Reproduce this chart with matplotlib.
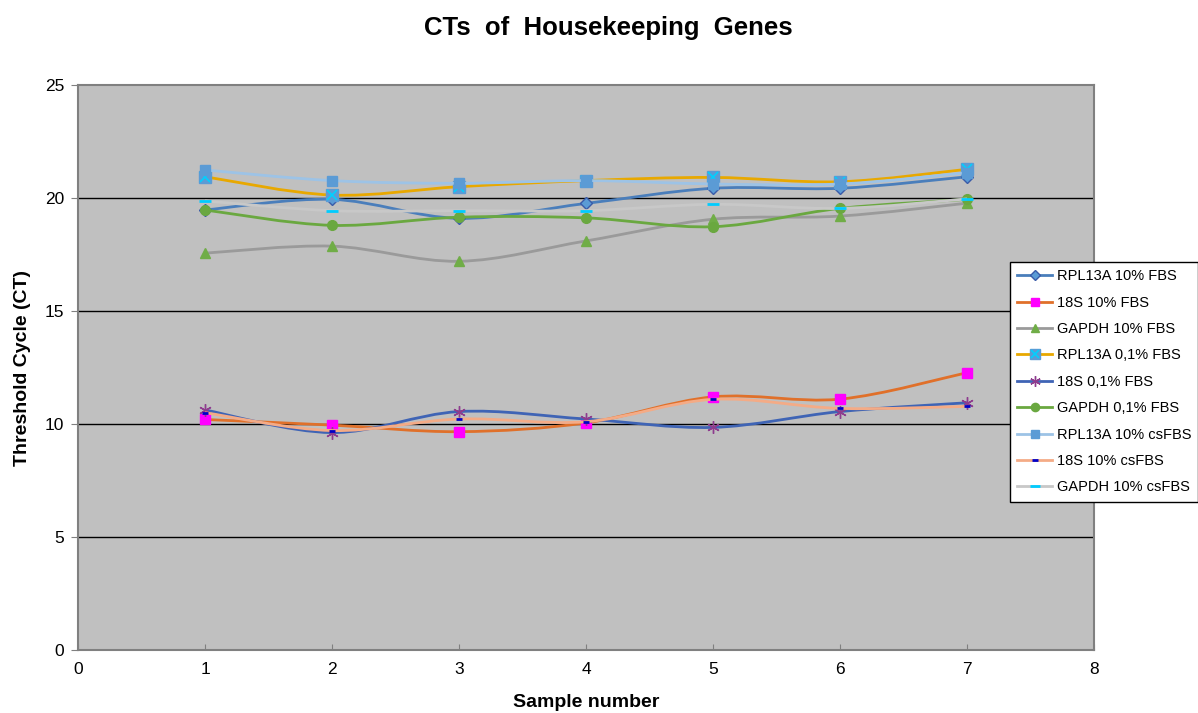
import numpy as np
import matplotlib
matplotlib.use('Agg')
import matplotlib.pyplot as plt
from matplotlib.path import Path
from matplotlib.patches import PathPatch
from matplotlib.lines import Line2D
from matplotlib.legend_handler import HandlerTuple

plt.rcParams['font.family'] = ['Liberation Sans', 'DejaVu Sans']

samples = [1, 2, 3, 4, 5, 6, 7]

rpl13a_10_fbs = [19.47, 19.94, 19.10, 19.76, 20.43, 20.43, 20.94]
s18_10_fbs = [10.20, 9.95, 9.66, 10.05, 11.20, 11.10, 12.27]
gapdh_10_fbs = [17.56, 17.87, 17.20, 18.10, 19.06, 19.20, 19.77]
rpl13a_01_fbs = [20.94, 20.13, 20.50, 20.77, 20.91, 20.72, 21.27]
s18_01_fbs = [10.62, 9.62, 10.55, 10.22, 9.85, 10.55, 10.94]
gapdh_01_fbs = [19.47, 18.79, 19.15, 19.12, 18.73, 19.54, 19.94]
rpl13a_10_cs = [21.24, 20.77, 20.65, 20.77, 20.62, 20.62, 21.12]
s18_10_cs = [10.50, 9.71, 10.22, 10.10, 11.09, 10.69, 10.78]
gapdh_10_cs = [19.87, 19.44, 19.44, 19.44, 19.72, 19.54, 19.96]

labels = ['RPL13A 10% FBS', '18S 10% FBS', 'GAPDH 10% FBS',
          'RPL13A 0,1% FBS', '18S 0,1% FBS', 'GAPDH 0,1% FBS',
          'RPL13A 10% csFBS', '18S 10% csFBS', 'GAPDH 10% csFBS']


def smooth_path(xs, ys):
    # Catmull-Rom through the points, as cubic bezier segments
    pts = np.column_stack([xs, ys]).astype(float)
    n = len(pts)
    verts = [pts[0]]
    codes = [Path.MOVETO]
    for i in range(n - 1):
        p0 = pts[i - 1] if i > 0 else pts[i]
        p1 = pts[i]
        p2 = pts[i + 1]
        p3 = pts[i + 2] if i + 2 < n else pts[i + 1]
        c1 = p1 + (p2 - p0) / 6.0
        c2 = p2 - (p3 - p1) / 6.0
        verts += [c1, c2, p2]
        codes += [Path.CURVE4] * 3
    return Path(verts, codes)


fig = plt.figure(figsize=(11.98, 7.13), dpi=100)
ax = fig.add_axes([78 / 1198, 1 - 650 / 713, (1094 - 78) / 1198, (650 - 85) / 713])
ax.set_facecolor('#C0C0C0')

# (values, line colour, marker, marker face, marker edge, marker size)
series = [
    (rpl13a_10_fbs, '#4A7EBB', 'D', '#5B9BD5', '#3A5BA8', 6),
    (s18_10_fbs, '#E0702A', 's', '#FF00FF', '#FF00FF', 7),
    (gapdh_10_fbs, '#9A9A9A', '^', '#70AD47', '#70AD47', 7),
    (rpl13a_01_fbs, '#E8A800', 's', '#5B9BD5', '#5B9BD5', 8),
    (s18_01_fbs, '#3F64B5', (6, 2, 0), '#8E3C8E', '#8E3C8E', 9),
    (gapdh_01_fbs, '#6AA840', 'o', '#6AA840', '#6AA840', 7),
    (rpl13a_10_cs, '#9DC3E6', 's', '#5B9BD5', '#5B9BD5', 7),
    (s18_10_cs, '#F4AB86', '_', '#0000C8', '#0000C8', 5),
    (gapdh_10_cs, '#C8C8C8', '_', '#00CCFF', '#00CCFF', 8),
]

handles = []
for i, (vals, lc, mk, mf, me, ms) in enumerate(series):
    patch = PathPatch(smooth_path(samples, vals), fill=False, edgecolor=lc,
                      lw=2.0, zorder=3 + i)
    ax.add_patch(patch)
    ax.plot(samples, vals, ls='none', marker=mk, ms=ms, mfc=mf, mec=me,
            mew=2 if mk == '_' else 1, zorder=3 + i)
    h = Line2D([], [], color=lc, lw=2.0, marker=mk, ms=ms * 0.85, mfc=mf, mec=me,
               mew=2 if mk == '_' else 1)
    if i == 3:
        ax.plot(samples, vals, ls='none', marker='x', ms=7, mec='#00D0FF',
                mew=1.2, zorder=3 + i)
        hx = Line2D([], [], ls='none', marker='x', ms=6, mec='#00D0FF', mew=1.2)
        h = (h, hx)
    handles.append(h)

ax.set_xlim(0, 8)
ax.set_ylim(0, 25)
ax.set_xticks(range(0, 9))
ax.set_yticks(range(0, 26, 5))
ax.tick_params(axis='x', direction='in', length=4, color='#808080',
               labelsize=12.5, pad=9)
ax.tick_params(axis='y', direction='out', length=5, color='#808080',
               labelsize=12.5, pad=5)
for y in [5, 10, 15, 20]:
    ax.axhline(y, color='black', lw=1.0, zorder=2)
for s in ax.spines.values():
    s.set_color('#808080')
    s.set_linewidth(1.5)

ax.set_xlabel('Sample number', fontsize=14, fontweight='bold', labelpad=12)
ax.set_ylabel('Threshold Cycle (CT)', fontsize=14, fontweight='bold', labelpad=10)
fig.text(608 / 1198, 1 - 28 / 713, 'CTs  of  Housekeeping  Genes',
         fontsize=18.5, fontweight='bold', ha='center', va='center')

leg = fig.legend(handles, labels, loc='upper left',
                 bbox_to_anchor=(1010 / 1198, 1 - 262 / 713),
                 fontsize=10.5, frameon=True, fancybox=False, framealpha=1,
                 edgecolor='black', handlelength=2.4, labelspacing=0.85,
                 borderpad=0.5, handletextpad=0.3, borderaxespad=0,
                 handler_map={tuple: HandlerTuple(ndivide=1)})
leg.get_frame().set_linewidth(1.0)

fig.savefig('out.png', dpi=100)
